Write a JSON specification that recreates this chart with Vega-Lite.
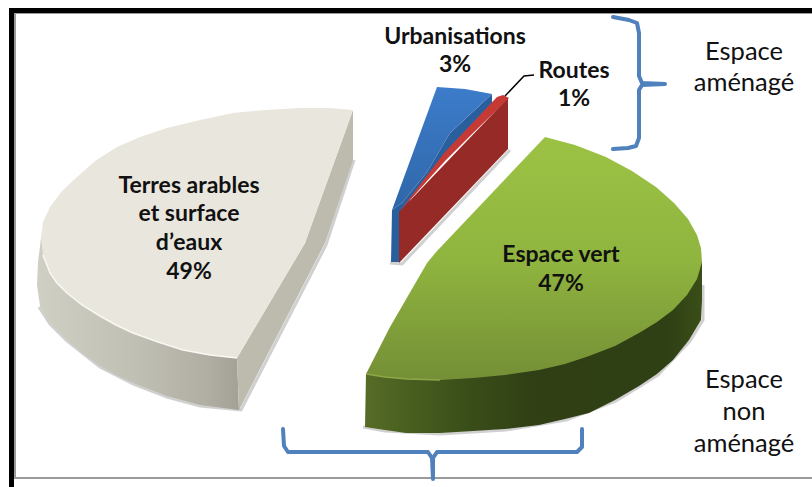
{"$schema":"https://vega.github.io/schema/vega-lite/v6.json","autosize":{"type":"none"},"width":812,"height":487,"padding":0,"background":"white","view":{"stroke":null},
"datasets":{"o":[
{"p":"frameK","i":1,"x":11.5,"y":487},{"p":"frameK","i":2,"x":11.5,"y":10.5},{"p":"frameK","i":3,"x":812,"y":10.5},
{"p":"frameG","i":1,"x":812,"y":478},{"p":"frameG","i":2,"x":15,"y":478},{"p":"frameG","i":3,"x":15,"y":13},{"p":"frameG","i":4,"x":812,"y":13},
{"p":"sh1","i":1,"x":354,"y":160},{"p":"sh1","i":2,"x":326,"y":245},{"p":"sh1","i":3,"x":241,"y":410},{"p":"sh1","i":4,"x":200,"y":406},{"p":"sh1","i":5,"x":167,"y":397},{"p":"sh1","i":6,"x":133,"y":384},{"p":"sh1","i":7,"x":100,"y":367},{"p":"sh1","i":8,"x":67,"y":341},{"p":"sh1","i":9,"x":50,"y":324},{"p":"sh1","i":10,"x":39,"y":307},
{"p":"sh2","i":1,"x":510,"y":150},{"p":"sh2","i":2,"x":402,"y":264},{"p":"sh2","i":3,"x":390,"y":263},
{"p":"sh3","i":1,"x":703,"y":285},{"p":"sh3","i":2,"x":703,"y":320},{"p":"sh3","i":3,"x":690,"y":341},{"p":"sh3","i":4,"x":658,"y":375},{"p":"sh3","i":5,"x":616,"y":401},{"p":"sh3","i":6,"x":566,"y":420},{"p":"sh3","i":7,"x":506,"y":430},{"p":"sh3","i":8,"x":440,"y":434},{"p":"sh3","i":9,"x":385,"y":431},{"p":"sh3","i":10,"x":363,"y":427},
{"p":"bRad","i":1,"x":353,"y":110},{"p":"bRad","i":2,"x":305,"y":243},{"p":"bRad","i":3,"x":237,"y":358},{"p":"bRad","i":4,"x":239,"y":410},{"p":"bRad","i":5,"x":325,"y":243},{"p":"bRad","i":6,"x":353,"y":160},
{"p":"bSide","i":1,"x":41,"y":238},{"p":"bSide","i":2,"x":38,"y":262},{"p":"bSide","i":3,"x":37,"y":285},{"p":"bSide","i":4,"x":40,"y":306},{"p":"bSide","i":5,"x":50,"y":323},{"p":"bSide","i":6,"x":67,"y":340},{"p":"bSide","i":7,"x":82,"y":353},{"p":"bSide","i":8,"x":100,"y":366},{"p":"bSide","i":9,"x":116,"y":375},{"p":"bSide","i":10,"x":133,"y":383},{"p":"bSide","i":11,"x":167,"y":396},{"p":"bSide","i":12,"x":200,"y":405},{"p":"bSide","i":13,"x":239,"y":410},{"p":"bSide","i":14,"x":237,"y":358},
{"p":"bTop","i":1,"x":353,"y":110},{"p":"bTop","i":2,"x":330,"y":108},{"p":"bTop","i":3,"x":300,"y":108},{"p":"bTop","i":4,"x":265,"y":110},{"p":"bTop","i":5,"x":233,"y":113},{"p":"bTop","i":6,"x":200,"y":120},{"p":"bTop","i":7,"x":167,"y":128},{"p":"bTop","i":8,"x":140,"y":137},{"p":"bTop","i":9,"x":117,"y":147},{"p":"bTop","i":10,"x":95,"y":161},{"p":"bTop","i":11,"x":77,"y":177},{"p":"bTop","i":12,"x":62,"y":191},{"p":"bTop","i":13,"x":50,"y":207},{"p":"bTop","i":14,"x":43,"y":222},{"p":"bTop","i":15,"x":41,"y":238},{"p":"bTop","i":16,"x":43,"y":255},{"p":"bTop","i":17,"x":50,"y":273},{"p":"bTop","i":18,"x":57,"y":283},{"p":"bTop","i":19,"x":67,"y":293},{"p":"bTop","i":20,"x":82,"y":305},{"p":"bTop","i":21,"x":100,"y":316},{"p":"bTop","i":22,"x":116,"y":325},{"p":"bTop","i":23,"x":133,"y":333},{"p":"bTop","i":24,"x":158,"y":342},{"p":"bTop","i":25,"x":183,"y":350},{"p":"bTop","i":26,"x":210,"y":355},{"p":"bTop","i":27,"x":237,"y":358},{"p":"bTop","i":28,"x":305,"y":243},
{"p":"bHi","i":1,"x":43,"y":255},{"p":"bHi","i":2,"x":50,"y":273},{"p":"bHi","i":3,"x":57,"y":283},{"p":"bHi","i":4,"x":67,"y":293},{"p":"bHi","i":5,"x":82,"y":305},{"p":"bHi","i":6,"x":100,"y":316},{"p":"bHi","i":7,"x":116,"y":325},{"p":"bHi","i":8,"x":133,"y":333},{"p":"bHi","i":9,"x":158,"y":342},{"p":"bHi","i":10,"x":183,"y":350},{"p":"bHi","i":11,"x":210,"y":355},{"p":"bHi","i":12,"x":237,"y":358},
{"p":"uDark","i":1,"x":492,"y":94},{"p":"uDark","i":2,"x":492,"y":104},{"p":"uDark","i":3,"x":410,"y":200},{"p":"uDark","i":4,"x":400,"y":262},{"p":"uDark","i":5,"x":391,"y":262},{"p":"uDark","i":6,"x":392,"y":210},{"p":"uDark","i":7,"x":402,"y":203},{"p":"uDark","i":8,"x":427,"y":172},{"p":"uDark","i":9,"x":450,"y":133},
{"p":"uTop","i":1,"x":437,"y":87},{"p":"uTop","i":2,"x":465,"y":89},{"p":"uTop","i":3,"x":492,"y":94},{"p":"uTop","i":4,"x":450,"y":133},{"p":"uTop","i":5,"x":427,"y":172},{"p":"uTop","i":6,"x":402,"y":203},{"p":"uTop","i":7,"x":392,"y":210},
{"p":"rSide","i":1,"x":508,"y":98},{"p":"rSide","i":2,"x":508,"y":149},{"p":"rSide","i":3,"x":399,"y":263},{"p":"rSide","i":4,"x":399,"y":212},
{"p":"rTop","i":1,"x":497,"y":97},{"p":"rTop","i":2,"x":503,"y":95},{"p":"rTop","i":3,"x":509,"y":98},{"p":"rTop","i":4,"x":470,"y":136},{"p":"rTop","i":5,"x":445,"y":161},{"p":"rTop","i":6,"x":399,"y":212},{"p":"rTop","i":7,"x":445,"y":152},
{"p":"gSide","i":1,"x":702,"y":262},{"p":"gSide","i":2,"x":702,"y":275},{"p":"gSide","i":3,"x":702,"y":300},{"p":"gSide","i":4,"x":701,"y":320},{"p":"gSide","i":5,"x":689,"y":340},{"p":"gSide","i":6,"x":673,"y":360},{"p":"gSide","i":7,"x":657,"y":374},{"p":"gSide","i":8,"x":639,"y":386},{"p":"gSide","i":9,"x":615,"y":400},{"p":"gSide","i":10,"x":589,"y":413},{"p":"gSide","i":11,"x":565,"y":419},{"p":"gSide","i":12,"x":539,"y":425},{"p":"gSide","i":13,"x":505,"y":429},{"p":"gSide","i":14,"x":473,"y":431},{"p":"gSide","i":15,"x":440,"y":433},{"p":"gSide","i":16,"x":406,"y":433},{"p":"gSide","i":17,"x":385,"y":430},{"p":"gSide","i":18,"x":365,"y":427},{"p":"gSide","i":19,"x":366,"y":374},
{"p":"gTop","i":1,"x":545,"y":137},{"p":"gTop","i":2,"x":575,"y":145},{"p":"gTop","i":3,"x":606,"y":157},{"p":"gTop","i":4,"x":632,"y":171},{"p":"gTop","i":5,"x":656,"y":187},{"p":"gTop","i":6,"x":674,"y":203},{"p":"gTop","i":7,"x":688,"y":219},{"p":"gTop","i":8,"x":697,"y":235},{"p":"gTop","i":9,"x":701,"y":248},{"p":"gTop","i":10,"x":702,"y":262},{"p":"gTop","i":11,"x":697,"y":279},{"p":"gTop","i":12,"x":687,"y":295},{"p":"gTop","i":13,"x":673,"y":310},{"p":"gTop","i":14,"x":657,"y":322},{"p":"gTop","i":15,"x":639,"y":333},{"p":"gTop","i":16,"x":615,"y":346},{"p":"gTop","i":17,"x":589,"y":356},{"p":"gTop","i":18,"x":565,"y":364},{"p":"gTop","i":19,"x":539,"y":370},{"p":"gTop","i":20,"x":505,"y":375},{"p":"gTop","i":21,"x":473,"y":378},{"p":"gTop","i":22,"x":440,"y":380},{"p":"gTop","i":23,"x":407,"y":379},{"p":"gTop","i":24,"x":385,"y":377},{"p":"gTop","i":25,"x":366,"y":374},{"p":"gTop","i":26,"x":390,"y":327},{"p":"gTop","i":27,"x":427,"y":263},{"p":"gTop","i":28,"x":437,"y":251},
{"p":"gHi","i":1,"x":366,"y":374},{"p":"gHi","i":2,"x":385,"y":377},{"p":"gHi","i":3,"x":407,"y":379},{"p":"gHi","i":4,"x":440,"y":380},
{"p":"lead","i":1,"x":505,"y":96},{"p":"lead","i":2,"x":524,"y":76},{"p":"lead","i":3,"x":534,"y":75},
{"p":"braceR","i":1,"x":613,"y":17},{"p":"braceR","i":2,"x":629,"y":20},{"p":"braceR","i":3,"x":637,"y":23},{"p":"braceR","i":4,"x":639,"y":33},{"p":"braceR","i":5,"x":639,"y":76},{"p":"braceR","i":6,"x":642,"y":83},{"p":"braceR","i":7,"x":665,"y":84},{"p":"braceR","i":8,"x":642,"y":85},{"p":"braceR","i":9,"x":639,"y":90},{"p":"braceR","i":10,"x":639,"y":138},{"p":"braceR","i":11,"x":636,"y":146},{"p":"braceR","i":12,"x":628,"y":148},{"p":"braceR","i":13,"x":613,"y":149},
{"p":"braceB","i":1,"x":283,"y":429},{"p":"braceB","i":2,"x":284,"y":446},{"p":"braceB","i":3,"x":288,"y":452},{"p":"braceB","i":4,"x":428,"y":452},{"p":"braceB","i":5,"x":432,"y":458},{"p":"braceB","i":6,"x":433,"y":479},{"p":"braceB","i":7,"x":433,"y":458},{"p":"braceB","i":8,"x":437,"y":452},{"p":"braceB","i":9,"x":577,"y":452},{"p":"braceB","i":10,"x":582,"y":447},{"p":"braceB","i":11,"x":582,"y":429}
],
"bold":[
{"t":"Terres arables","x":189,"y":186},{"t":"et surface","x":189,"y":214},{"t":"d’eaux","x":189,"y":243},{"t":"49%","x":189,"y":272},
{"t":"Espace vert","x":561,"y":255},{"t":"47%","x":561,"y":284},
{"t":"Urbanisations","x":455,"y":37},{"t":"3%","x":455,"y":65},
{"t":"Routes","x":574,"y":71},{"t":"1%","x":574,"y":99}],
"reg":[
{"t":"Espace","x":744,"y":52},{"t":"aménagé","x":744,"y":83},
{"t":"Espace","x":744,"y":380},{"t":"non","x":744,"y":412},{"t":"aménagé","x":744,"y":444}]},
"encoding":{"x":{"field":"x","type":"quantitative","axis":null,"scale":{"domain":[0,812],"nice":false,"zero":false}},"y":{"field":"y","type":"quantitative","axis":null,"scale":{"domain":[487,0],"nice":false,"zero":false}}},
"layer":[
{"data":{"name":"o"},"transform":[{"filter":"datum.p=='frameG'"}],"mark":{"type":"line","stroke":"#9a9a9a","strokeWidth":2},"encoding":{"order":{"field":"i"}}},
{"data":{"name":"o"},"transform":[{"filter":"datum.p=='frameK'"}],"mark":{"type":"line","stroke":"#000","strokeWidth":5,"strokeJoin":"miter"},"encoding":{"order":{"field":"i"}}},
{"data":{"name":"o"},"transform":[{"filter":"indexof(['sh1','sh2','sh3'],datum.p)>=0"}],"mark":{"type":"line","stroke":"#8a8a8a","strokeWidth":3,"opacity":0.4},"encoding":{"order":{"field":"i"},"detail":{"field":"p"}}},
{"data":{"name":"o"},"transform":[{"filter":"datum.p=='bSide'"}],"mark":{"type":"line","stroke":null,"fill":{"gradient":"linear","x1":0,"y1":0,"x2":1,"y2":0,"stops":[{"offset":0,"color":"#d0cfc4"},{"offset":0.5,"color":"#c0bfb3"},{"offset":0.85,"color":"#b0aea2"},{"offset":1,"color":"#a3a196"}]}},"encoding":{"order":{"field":"i"}}},
{"data":{"name":"o"},"transform":[{"filter":"datum.p=='bRad'"}],"mark":{"type":"line","stroke":null,"fill":"#bcbbae"},"encoding":{"order":{"field":"i"}}},
{"data":{"name":"o"},"transform":[{"filter":"datum.p=='bTop'"}],"mark":{"type":"line","stroke":null,"fill":"#e9e7dd"},"encoding":{"order":{"field":"i"}}},
{"data":{"name":"o"},"transform":[{"filter":"datum.p=='bHi'"}],"mark":{"type":"line","stroke":"#f9f8f2","strokeWidth":1.5},"encoding":{"order":{"field":"i"}}},
{"data":{"name":"o"},"transform":[{"filter":"datum.p=='uDark'"}],"mark":{"type":"line","stroke":null,"fill":"#2a5f9e"},"encoding":{"order":{"field":"i"}}},
{"data":{"name":"o"},"transform":[{"filter":"datum.p=='uTop'"}],"mark":{"type":"line","stroke":null,"fill":{"gradient":"linear","x1":0,"y1":0,"x2":0,"y2":1,"stops":[{"offset":0,"color":"#3c7cca"},{"offset":1,"color":"#2f66a8"}]}},"encoding":{"order":{"field":"i"}}},
{"data":{"name":"o"},"transform":[{"filter":"datum.p=='rSide'"}],"mark":{"type":"line","stroke":null,"fill":"#952a27"},"encoding":{"order":{"field":"i"}}},
{"data":{"name":"o"},"transform":[{"filter":"datum.p=='rTop'"}],"mark":{"type":"line","stroke":null,"fill":"#c63a36"},"encoding":{"order":{"field":"i"}}},
{"data":{"name":"o"},"transform":[{"filter":"datum.p=='gSide'"}],"mark":{"type":"line","stroke":null,"fill":{"gradient":"linear","x1":0,"y1":0,"x2":1,"y2":0,"stops":[{"offset":0,"color":"#566c26"},{"offset":0.12,"color":"#4a6020"},{"offset":0.3,"color":"#3a4e19"},{"offset":0.5,"color":"#303f14"},{"offset":0.9,"color":"#2f4014"},{"offset":1,"color":"#3a4e18"}]}},"encoding":{"order":{"field":"i"}}},
{"data":{"name":"o"},"transform":[{"filter":"datum.p=='gTop'"}],"mark":{"type":"line","stroke":null,"fill":{"gradient":"linear","x1":0,"y1":0,"x2":0,"y2":1,"stops":[{"offset":0,"color":"#9cc244"},{"offset":0.5,"color":"#90b53f"},{"offset":1,"color":"#748f36"}]}},"encoding":{"order":{"field":"i"}}},
{"data":{"name":"o"},"transform":[{"filter":"datum.p=='gHi'"}],"mark":{"type":"line","stroke":"#8ea848","strokeWidth":1.5},"encoding":{"order":{"field":"i"}}},
{"data":{"name":"o"},"transform":[{"filter":"datum.p=='lead'"}],"mark":{"type":"line","stroke":"#000","strokeWidth":1.5},"encoding":{"order":{"field":"i"}}},
{"data":{"name":"o"},"transform":[{"filter":"datum.p=='braceR'||datum.p=='braceB'"}],"mark":{"type":"line","stroke":"#4f81bd","strokeWidth":4,"strokeJoin":"round","strokeCap":"round"},"encoding":{"order":{"field":"i"},"detail":{"field":"p"}}},
{"data":{"name":"bold"},"mark":{"type":"text","font":"Lato","fontWeight":"bold","fontSize":23,"color":"#111","align":"center","baseline":"middle"},"encoding":{"text":{"field":"t"}}},
{"data":{"name":"reg"},"mark":{"type":"text","font":"Lato","fontSize":25.5,"color":"#111","align":"center","baseline":"middle"},"encoding":{"text":{"field":"t"}}}
]}
